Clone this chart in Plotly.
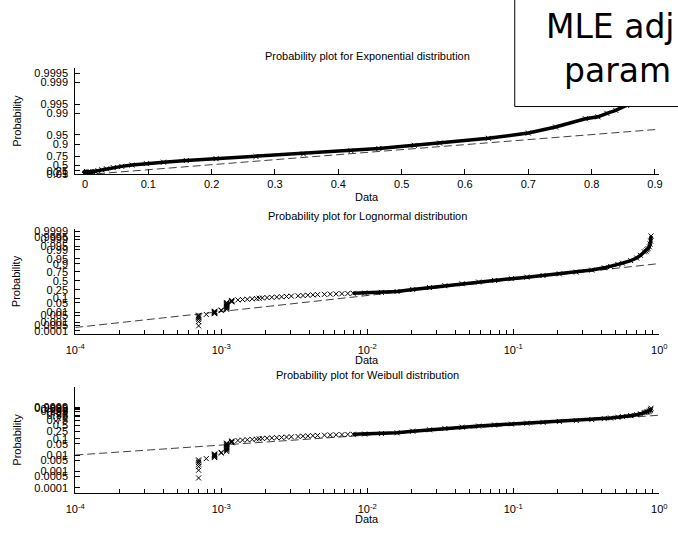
import math
from statistics import NormalDist
import plotly.graph_objects as go

# ---------------- data (sorted sample values and their plotting probabilities) ----------------
values = [
    0.00070, 0.00070, 0.00070, 0.00070, 0.00070, 0.00070, 0.00070,
    0.00079,
    0.00090, 0.00090, 0.00090, 0.00090, 0.00090, 0.00090, 0.00090,
    0.00100, 0.00100,
    0.00109, 0.00109, 0.00109, 0.00109, 0.00109, 0.00109, 0.00109, 0.00109, 0.00109, 0.00109, 0.00109, 0.00109,
    0.00118, 0.00118, 0.00118, 0.00118,
    0.00130, 0.00140, 0.00151, 0.00163, 0.00174, 0.00182, 0.00191, 0.00206, 0.00222, 0.00240,
    0.00259, 0.00280, 0.00302, 0.00336, 0.00363, 0.00392, 0.00424, 0.00457, 0.00509, 0.00558,
    0.00612, 0.00671, 0.00736,
    0.0080, 0.0096, 0.0125, 0.016, 0.0205, 0.0267, 0.034, 0.0446, 0.058, 0.0743,
    0.097, 0.124, 0.16, 0.207, 0.27, 0.345, 0.42, 0.464, 0.52, 0.56,
    0.637, 0.70, 0.743, 0.79, 0.81, 0.824, 0.838, 0.855, 0.865, 0.872, 0.878,
]
probs = [
    0.0004, 0.0012, 0.0020, 0.0028, 0.0036, 0.0044, 0.0052,
    0.0062,
    0.0072, 0.0080, 0.0088, 0.0096, 0.0104, 0.0112, 0.0120,
    0.0135, 0.0150,
    0.017, 0.020, 0.023, 0.026, 0.029, 0.032, 0.035, 0.038, 0.042, 0.046, 0.050, 0.054,
    0.058, 0.063, 0.068, 0.073,
    0.078, 0.082, 0.086, 0.090, 0.094, 0.098, 0.102, 0.106, 0.110, 0.114,
    0.118, 0.123, 0.128, 0.133, 0.138, 0.143, 0.148, 0.153, 0.158, 0.162,
    0.166, 0.170, 0.174,
    0.178, 0.184, 0.195, 0.215, 0.26, 0.31, 0.36, 0.415, 0.465, 0.515,
    0.565, 0.61, 0.655, 0.70, 0.745, 0.79, 0.835, 0.86, 0.89, 0.907,
    0.935, 0.956, 0.972, 0.985, 0.987, 0.990, 0.992, 0.9945, 0.997, 0.9985, 0.9996,
]
dense_from = 0.0080  # from here on the markers overlap into a solid band on log axes

# fitted reference lines: (data value, probability) at the two ends
exp_ref_x = [0.0, 0.9068]
exp_ref_p = [0.0, 0.967]
logn_ref_x = [1e-4, 1.0]
logn_ref_p = [0.000254, 0.902]
weib_ref_x = [1e-4, 1.0]
weib_ref_p = [0.0103, 0.946]

exp_ticks = [0.05, 0.1, 0.25, 0.5, 0.75, 0.9, 0.95, 0.99, 0.995, 0.999, 0.9995]
norm_ticks = [0.0001, 0.0005, 0.001, 0.005, 0.01, 0.05, 0.1, 0.25, 0.5, 0.75, 0.9,
              0.95, 0.99, 0.995, 0.999, 0.9995, 0.9999]
weib_ticks = [0.0001, 0.0005, 0.001, 0.005, 0.01, 0.05, 0.1, 0.25, 0.5, 0.75, 0.9,
              0.95, 0.99, 0.995, 0.999, 0.9995, 0.9999]
lin_xticks = [0, 0.1, 0.2, 0.3, 0.4, 0.5, 0.6, 0.7, 0.8, 0.9]
log_xticks = [1e-4, 1e-3, 1e-2, 1e-1, 1.0]
log_xticktext = ["10<sup>-4</sup>", "10<sup>-3</sup>", "10<sup>-2</sup>", "10<sup>-1</sup>", "10<sup>0</sup>"]

titles = ["Probability plot for Exponential distribution",
          "Probability plot for Lognormal distribution",
          "Probability plot for Weibull distribution"]
box_lines = ["MLE adj", "param"]

# ---------------- probability-paper scales ----------------
ND = NormalDist()
def t_exp(p):
    return -math.log(1.0 - p)
def t_norm(p):
    return ND.inv_cdf(p)
def t_weib(p):
    return math.log(-math.log(1.0 - p))

W, H = 678, 535
def px(x):
    return x / W
def py(y):
    return 1 - y / H

FONT = "Liberation Sans, Arial, sans-serif"
BLACK = "#000000"
fig = go.Figure()

mk = dict(symbol="x-thin", size=5, color=BLACK, line=dict(width=1, color=BLACK))
dash = dict(color="#404040", width=1, dash="8px,4px")
band = dict(color=BLACK, width=3.5)

dense_idx = [i for i, v in enumerate(values) if v >= dense_from]
dvals = [values[i] for i in dense_idx]
dprobs = [probs[i] for i in dense_idx]

# Exponential
fig.add_trace(go.Scatter(x=exp_ref_x, y=[t_exp(p) for p in exp_ref_p], mode="lines", line=dash,
                         xaxis="x", yaxis="y", showlegend=False))
fig.add_trace(go.Scatter(x=values, y=[t_exp(p) for p in probs], mode="lines+markers", line=band,
                         marker=mk, xaxis="x", yaxis="y", showlegend=False))
# Lognormal
fig.add_trace(go.Scatter(x=logn_ref_x, y=[t_norm(p) for p in logn_ref_p], mode="lines", line=dash,
                         xaxis="x2", yaxis="y2", showlegend=False))
fig.add_trace(go.Scatter(x=dvals, y=[t_norm(p) for p in dprobs], mode="lines", line=band,
                         xaxis="x2", yaxis="y2", showlegend=False))
fig.add_trace(go.Scatter(x=values, y=[t_norm(p) for p in probs], mode="markers", marker=mk,
                         xaxis="x2", yaxis="y2", showlegend=False))
# Weibull
fig.add_trace(go.Scatter(x=weib_ref_x, y=[t_weib(p) for p in weib_ref_p], mode="lines", line=dash,
                         xaxis="x3", yaxis="y3", showlegend=False))
fig.add_trace(go.Scatter(x=dvals, y=[t_weib(p) for p in dprobs], mode="lines", line=band,
                         xaxis="x3", yaxis="y3", showlegend=False))
fig.add_trace(go.Scatter(x=values, y=[t_weib(p) for p in probs], mode="markers", marker=mk,
                         xaxis="x3", yaxis="y3", showlegend=False))

xdom = [px(67), px(667)]
doms = [(65, 173.3), (229.3, 336), (390, 498.3)]

common = dict(showgrid=False, zeroline=False, showline=True, linecolor=BLACK, linewidth=1,
              ticks="inside", ticklen=5, tickcolor=BLACK, mirror=False,
              tickfont=dict(family=FONT, size=11, color=BLACK))

minor_log = [m * 10.0 ** e for e in range(-4, 0) for m in range(2, 10)]

fig.update_layout(
    width=W, height=H, margin=dict(l=0, r=0, t=0, b=0),
    paper_bgcolor="white", plot_bgcolor="white",
    xaxis=dict(domain=xdom, anchor="y", range=[-0.0154, 0.9068], tickvals=lin_xticks,
               ticktext=[("%g" % v) for v in lin_xticks], **common),
    yaxis=dict(domain=[py(doms[0][1]), py(doms[0][0])], anchor="x", range=[0.05, 8.02],
               tickvals=[t_exp(p) for p in exp_ticks], ticktext=[("%g" % p) for p in exp_ticks],
               ticklabelstandoff=4, **common),
    xaxis2=dict(domain=xdom, anchor="y2", type="log", range=[-4, 0], tickvals=log_xticks,
                ticktext=log_xticktext, ticklabelstandoff=6,
                minor=dict(tickvals=minor_log, ticks="inside", ticklen=4, tickcolor=BLACK, showgrid=False),
                **common),
    yaxis2=dict(domain=[py(doms[1][1]), py(doms[1][0])], anchor="x2", range=[-3.94, 3.87],
                tickvals=[t_norm(p) for p in norm_ticks], ticktext=[("%g" % p) for p in norm_ticks],
                ticklabelstandoff=4, **common),
    xaxis3=dict(domain=xdom, anchor="y3", type="log", range=[-4, 0], tickvals=log_xticks,
                ticktext=log_xticktext, ticklabelstandoff=6,
                minor=dict(tickvals=minor_log, ticks="inside", ticklen=4, tickcolor=BLACK, showgrid=False),
                **common),
    yaxis3=dict(domain=[py(doms[2][1]), py(doms[2][0])], anchor="x3", range=[-9.95, 5.11],
                tickvals=[t_weib(p) for p in weib_ticks], ticktext=[("%g" % p) for p in weib_ticks],
                ticklabelstandoff=4, **common),
)

ann = []
title_y = [53, 216, 378]
for t, yy in zip(titles, title_y):
    ann.append(dict(text=t, x=px(367), y=py(yy), xref="paper", yref="paper", showarrow=False,
                    xanchor="center", yanchor="middle", font=dict(family=FONT, size=11, color=BLACK)))
for yy in [197, 363, 525]:
    ann.append(dict(text="Data", x=px(367), y=py(yy), xref="paper", yref="paper", showarrow=False,
                    xanchor="center", yanchor="middle", font=dict(family=FONT, size=11, color=BLACK)))
for (a, b) in doms:
    ann.append(dict(text="Probability", x=px(7), y=py((a + b) / 2), xref="paper", yref="paper",
                    showarrow=False, textangle=-90, xanchor="center", yanchor="middle",
                    font=dict(family=FONT, size=11, color=BLACK)))
ann.append(dict(text=box_lines[0], x=px(549), y=py(23), xref="paper", yref="paper", showarrow=False,
                xanchor="left", yanchor="middle", font=dict(family="DejaVu Sans", size=33, color=BLACK)))
ann.append(dict(text=box_lines[1], x=px(567), y=py(68), xref="paper", yref="paper", showarrow=False,
                xanchor="left", yanchor="middle", font=dict(family="DejaVu Sans", size=33, color=BLACK)))
fig.update_layout(annotations=ann)

fig.add_shape(type="rect", xref="paper", yref="paper", x0=px(518.5), x1=px(700), y0=py(104.5), y1=py(-10),
              line=dict(color=BLACK, width=1), fillcolor="white", layer="above")

fig.write_html("out.html")
